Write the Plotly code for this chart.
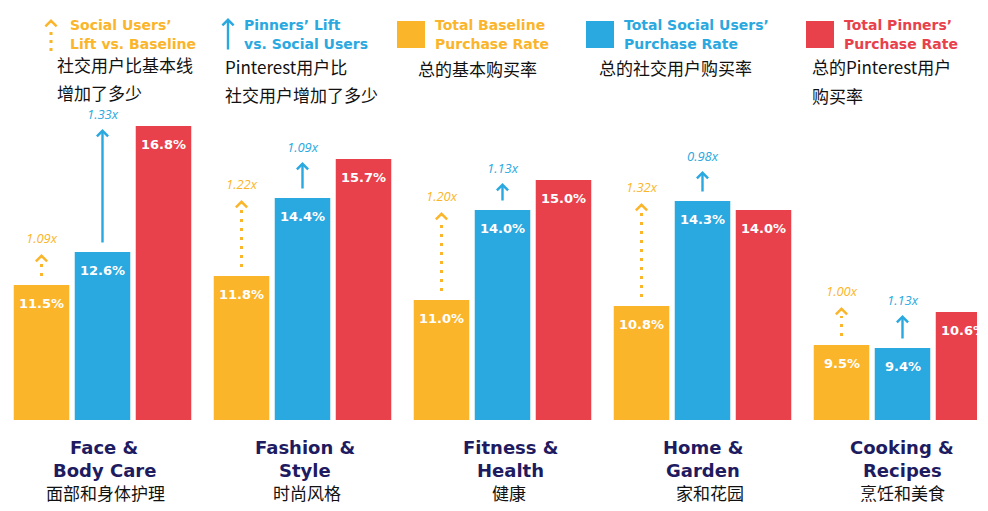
import plotly.graph_objects as go

# ---------------- data ----------------
categories_en = [["Face &", "Body Care"], ["Fashion &", "Style"], ["Fitness &", "Health"],
                 ["Home &", "Garden"], ["Cooking &", "Recipes"]]
categories_zh = ["面部和身体护理", "时尚风格", "健康", "家和花园", "烹饪和美食"]
baseline_rate = [11.5, 11.8, 11.0, 10.8, 9.5]
social_rate = [12.6, 14.4, 14.0, 14.3, 9.4]
pinners_rate = [16.8, 15.7, 15.0, 14.0, 10.6]
social_lift = ["1.09x", "1.22x", "1.20x", "1.32x", "1.00x"]
pinners_lift = ["1.33x", "1.09x", "1.13x", "0.98x", "1.13x"]

legend_social_lift_en = ["Social Users’", "Lift vs. Baseline"]
legend_social_lift_zh = ["社交用户比基本线", "增加了多少"]
legend_pinner_lift_en = ["Pinners’ Lift", "vs. Social Users"]
legend_pinner_lift_zh = ["Pinterest用户比", "社交用户增加了多少"]
legend_base_en = ["Total Baseline", "Purchase Rate"]
legend_base_zh = ["总的基本购买率"]
legend_social_en = ["Total Social Users’", "Purchase Rate"]
legend_social_zh = ["总的社交用户购买率"]
legend_pin_en = ["Total Pinners’", "Purchase Rate"]
legend_pin_zh = ["总的Pinterest用户", "购买率"]

# ---------------- style ----------------
ORANGE = "#FBB52B"
BLUE = "#2AA8E0"
RED = "#E8414C"
NAVY = "#1E1B61"
BOLD_FONT = "DejaVu Sans"
CJK_FONT = "Noto Sans CJK SC"
ITAL_FONT = "Open Sans"

W, H = 988, 511
PLOT_RIGHT = 977
PLOT_TOP, PLOT_BOTTOM = 100, 420
Y_MIN = 7.0
PXU = 30.0  # pixels per percentage point
Y_MAX = Y_MIN + (PLOT_BOTTOM - PLOT_TOP) / PXU
X_LEFT = -0.5125
X_RIGHT = X_LEFT + PLOT_RIGHT / 200.0
BARGAP = 0.085
SLOT = (1 - BARGAP) / 3


def dy(p):
    return p / PXU


def xp(p):
    return p / W


def yp(p):
    return 1 - p / H


xs = list(range(len(categories_zh)))
fig = go.Figure()
for vals, col in [(baseline_rate, ORANGE), (social_rate, BLUE), (pinners_rate, RED)]:
    fig.add_trace(go.Bar(x=xs, y=vals, marker=dict(color=col, line=dict(width=0)),
                         hoverinfo="skip", showlegend=False))

ann = []
shapes = []

# value labels
for k, vals in enumerate([baseline_rate, social_rate, pinners_rate]):
    for i, v in enumerate(vals):
        ann.append(dict(x=i + (k - 1) * SLOT, y=v, xref="x", yref="y", yshift=-18,
                        text=f"{v:.1f}%", showarrow=False,
                        font=dict(family=BOLD_FONT, size=13, color="white", weight=700)))

# lift arrows
for i in xs:
    b, s, p = baseline_rate[i], social_rate[i], pinners_rate[i]
    # orange dotted arrow
    xo = i - SLOT
    head = s - dy(2) if s > b else b + dy(38)
    shapes.append(dict(type="line", xref="x", yref="y", x0=xo, x1=xo,
                       y0=b + dy(9), y1=head - dy(9),
                       line=dict(color=ORANGE, width=3, dash="3px,6px")))
    ann.append(dict(x=xo, y=head, xref="x", yref="y", ax=0, ay=5, text="",
                    showarrow=True, arrowhead=4, arrowwidth=2.4, arrowsize=0.9,
                    arrowcolor=ORANGE))
    ann.append(dict(x=xo, y=head, xref="x", yref="y", yshift=16, text=social_lift[i],
                    showarrow=False,
                    font=dict(family=ITAL_FONT, size=13, color=ORANGE, style="italic")))
    # blue solid arrow
    xb = i
    headb = p - dy(3) if p > s else s + dy(30)
    ann.append(dict(x=xb, y=headb, xref="x", yref="y", ax=xb, ay=s, axref="x", ayref="y",
                    text="", showarrow=True, startstandoff=8, arrowhead=4,
                    arrowwidth=2.4, arrowsize=0.9, arrowcolor=BLUE))
    ann.append(dict(x=xb, y=headb, xref="x", yref="y", yshift=15, text=pinners_lift[i],
                    showarrow=False,
                    font=dict(family=ITAL_FONT, size=13, color=BLUE, style="italic")))

# category labels
for i in xs:
    cx = [104, 305, 510, 703, 902][i]
    zx = [105, 307, 509, 710, 902][i]
    for j, line in enumerate(categories_en[i]):
        ann.append(dict(x=xp(cx), y=yp([447, 470][j]), xref="paper", yref="paper",
                        text=line, showarrow=False, xanchor="center", yanchor="middle",
                        font=dict(family=BOLD_FONT, size=18, color=NAVY, weight=700)))
    ann.append(dict(x=xp(zx), y=yp(492), xref="paper", yref="paper",
                    text=categories_zh[i], showarrow=False, xanchor="center",
                    yanchor="middle", font=dict(family=CJK_FONT, size=17, color="#111111")))


def legend_text(x, lines_en, lines_zh, zh_y, col, zh_x):
    for j, line in enumerate(lines_en):
        ann.append(dict(x=xp(x), y=yp([25, 44][j]), xref="paper", yref="paper", text=line,
                        showarrow=False, xanchor="left", yanchor="middle",
                        font=dict(family=BOLD_FONT, size=14, color=col, weight=700)))
    for j, line in enumerate(lines_zh):
        ann.append(dict(x=xp(zh_x), y=yp(zh_y[j]), xref="paper", yref="paper", text=line,
                        showarrow=False, xanchor="left", yanchor="middle",
                        font=dict(family=CJK_FONT, size=17, color="#111111")))


# legend item 1: dotted orange arrow
shapes.append(dict(type="line", xref="paper", yref="paper", x0=xp(51), x1=xp(51),
                   y0=yp(51), y1=yp(29), line=dict(color=ORANGE, width=3, dash="3px,5px")))
ann.append(dict(x=xp(51), y=yp(19), xref="paper", yref="paper", ax=0, ay=5, text="",
                showarrow=True, arrowhead=4, arrowwidth=2.4, arrowsize=0.9, arrowcolor=ORANGE))
legend_text(68, legend_social_lift_en, legend_social_lift_zh, [64, 93], ORANGE, 55)
# legend item 2: blue arrow
ann.append(dict(x=xp(228), y=yp(18), xref="paper", yref="paper", ax=0, ay=33, text="",
                showarrow=True, arrowhead=4, arrowwidth=2.4, arrowsize=0.9, arrowcolor=BLUE))
legend_text(242, legend_pinner_lift_en, legend_pinner_lift_zh, [66, 94], BLUE, 223)
# legend squares
for x0, col, en, zh, zy, zx in [(397, ORANGE, legend_base_en, legend_base_zh, [69], 416),
                                (586, BLUE, legend_social_en, legend_social_zh, [67], 597),
                                (806, RED, legend_pin_en, legend_pin_zh, [66, 95], 810)]:
    shapes.append(dict(type="rect", xref="paper", yref="paper", x0=xp(x0), x1=xp(x0 + 28),
                       y0=yp(48), y1=yp(21), fillcolor=col, line=dict(width=0)))
    legend_text(x0 + 36, en, zh, zy, col, zx)

fig.update_layout(
    width=W, height=H,
    margin=dict(l=0, r=0, t=0, b=0),
    paper_bgcolor="white", plot_bgcolor="white",
    barmode="group", bargap=BARGAP, bargroupgap=0.09,
    xaxis=dict(range=[X_LEFT, X_RIGHT], domain=[0, PLOT_RIGHT / W], visible=False,
               fixedrange=True),
    yaxis=dict(range=[Y_MIN, Y_MAX], domain=[1 - PLOT_BOTTOM / H, 1 - PLOT_TOP / H],
               visible=False, fixedrange=True),
    annotations=ann, shapes=shapes,
    showlegend=False,
)

fig.write_html("out.html", config={"displayModeBar": False},
               post_script="document.body.style.margin='0px';document.body.style.overflow='hidden';")
